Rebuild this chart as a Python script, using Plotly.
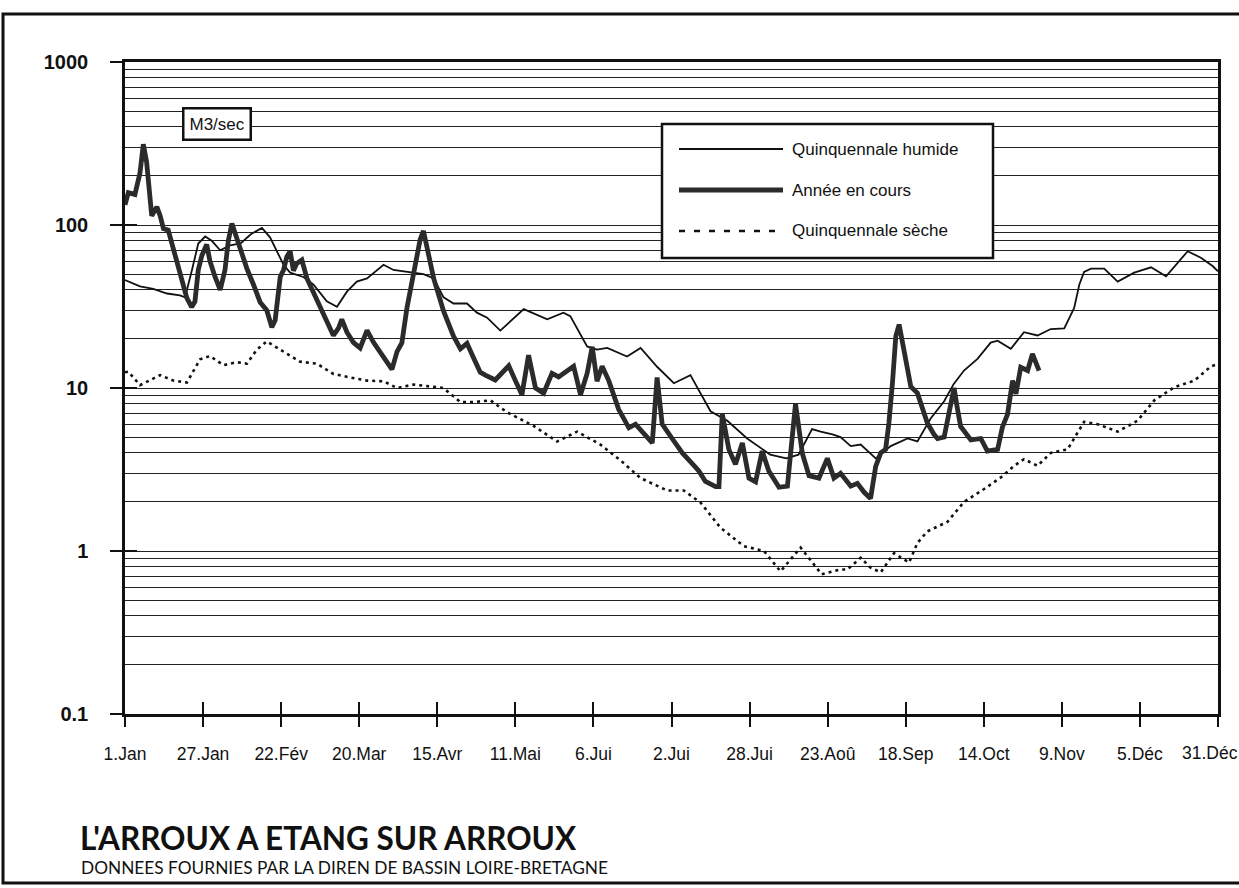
import plotly.graph_objects as go

# ---- Débits journaliers (m3/s), abscisse = jour de l'année ----
humide_day = [1, 6, 10.4, 15, 19.3, 21, 23.2, 25.4, 27.7, 29.9, 32.7, 36, 39.5, 43, 46.6,
              49.3, 53.8, 56, 60.4, 63.8, 68.2, 71.6, 74.9, 78.2, 81.6, 87.1, 90.4, 96,
              100.4, 103.8, 107.1, 110.4, 114.9, 118.2, 121.6, 126, 133.8, 141.6, 147,
              149.3, 154.9, 158.2, 161.6, 168.2, 172.7, 178.2, 183.8, 189.3, 196, 201.6,
              208.2, 215.9, 221.2, 225.3, 229.8, 232.7, 236.6, 239.3, 242.7, 246, 251,
              256, 261.6, 264.9, 269.3, 273.8, 277, 280.4, 284.9, 289.3, 291.6, 296,
              300.4, 304.9, 309.3, 313.8, 317.1, 318.8, 320.4, 322.7, 327.1, 331.6,
              337.1, 342.7, 347.7, 354.9, 359.3, 363.2, 365]
humide_q = [46, 42, 40.5, 38, 37, 36, 52, 77, 85, 80, 70, 75, 77, 88, 96,
            84, 57, 51, 48, 43, 34, 31.5, 39, 45, 47, 57, 53, 51,
            50, 47, 36, 33, 33, 29, 27, 22.5, 30.5, 26.4, 29,
            27.6, 18, 17.2, 17.6, 15.6, 17.6, 13.5, 10.7, 12, 7.2, 6.3,
            4.9, 3.9, 3.7, 3.9, 5.6, 5.4, 5.2, 5.0, 4.4, 4.5, 3.7,
            4.4, 4.9, 4.7, 6.5, 8.3, 10.6, 12.8, 15.1, 19, 19.5, 17.4,
            22, 21, 23, 23.2, 31, 43, 51.5, 54, 54, 45,
            51, 55, 48.5, 69, 63, 56, 52]

annee_day = [1, 2.1, 4.3, 6, 7.1, 8.2, 9.9, 11.6, 12.7, 13.8, 15.4, 17.7, 19.9, 21.6,
             23.2, 24.3, 25.4, 26.6, 28.2, 29.3, 31, 32.7, 34.3, 35.4, 36.6, 37.7,
             39.9, 41.6, 43.8, 46, 48.2, 49.9, 51, 52.7, 53.8, 54.9, 56, 57.1, 58.2,
             59.9, 61.6, 63.8, 66, 68.2, 70.4, 72.1, 73.2, 74.9, 77.1, 79.3, 81.6,
             83.8, 87.1, 89.9, 91.6, 93.2, 94.9, 97.1, 99.3, 100.4, 102.1, 103.8,
             107.1, 110.4, 112.7, 114.9, 117.1, 119.3, 121, 124.3, 126.6, 128.8, 131,
             133.2, 135.4, 137.7, 140.4, 143.2, 145.4, 148.8, 150.4, 152.7, 154.9,
             156.6, 158.2, 159.9, 162.1, 165.4, 168.8, 171, 173.2, 176.6, 178.2,
             179.9, 183.2, 186.6, 189.9, 192.1, 194.3, 197.7, 198.8, 199.9, 202.1,
             204.3, 206.6, 208.8, 211, 213.2, 215.4, 218.8, 221.6, 224.3, 226.6,
             228.8, 232.1, 234.9, 237.1, 239.3, 242.7, 244.9, 247.1, 249.3, 251,
             252.7, 254.3, 255.4, 256.6, 257.7, 258.8, 260.4, 262.7, 264.9, 266.6,
             268.2, 270.4, 271.6, 273.8, 276, 277.1, 278.2, 279.3, 282.7, 286, 288.2,
             291.6, 293.2, 294.9, 296.6, 297.7, 299.3, 301.6, 303.2, 305.4]
annee_q = [133, 158, 154, 209, 313, 243, 114, 129, 114, 95, 93, 65, 46, 35.6,
           31.4, 34, 53, 65, 76, 60, 48, 40, 53, 80, 102, 88,
           65, 54, 43, 33.6, 30, 23.6, 26, 48, 53, 64, 69, 52.5, 58,
           61, 47, 38.7, 31.6, 25.8, 21, 23.3, 26.4, 22, 19, 17.6, 22.6,
           19, 15.5, 13, 16.7, 18.9, 31, 52, 81.5, 92, 63, 47,
           29.6, 20.8, 17.4, 18.8, 15.3, 12.5, 12, 11.2, 12.4, 13.7, 11.1,
           9.1, 15.9, 10, 9.3, 12.3, 11.7, 12.9, 13.6, 9.1, 12.3,
           17.9, 11, 13.6, 11.1, 7.4, 5.7, 6.0, 5.4, 4.6, 11.6,
           6.0, 4.9, 4.0, 3.44, 3.1, 2.67, 2.48, 2.48, 6.95, 4.2,
           3.4, 4.6, 2.8, 2.66, 4.1, 3.1, 2.46, 2.5, 8.0, 3.95,
           2.9, 2.8, 3.7, 2.8, 3.0, 2.5, 2.6, 2.3, 2.1, 3.3,
           4.0, 4.2, 6.1, 10.8, 20.8, 24.5, 17.2, 10.2, 9.3, 7.6,
           6.1, 5.2, 4.9, 5.0, 8.0, 10, 7.5, 5.8, 4.8, 4.9, 4.1,
           4.2, 5.75, 6.9, 11.1, 9.2, 13.4, 12.8, 16.2, 12.8]

seche_day = [1, 2.1, 6, 12.7, 17.1, 21.6, 26, 29.3, 33.8, 38.2, 41.6, 44.9, 48.2,
             53.8, 59.3, 64.9, 70.4, 76, 81.6, 87.1, 91.6, 97.1, 107, 112.7, 117.1,
             122.7, 128.2, 137.1, 144.9, 151.6, 159.3, 166, 172.7, 181.6, 187.1,
             192.7, 199.3, 207.1, 213.8, 219.3, 223.8, 226, 233, 239.3, 241.6, 246,
             249.3, 252.7, 257.1, 262.1, 264.9, 268.2, 274.9, 280.4, 287.1, 292.7,
             297.1, 300.4, 304.9, 309.3, 314.9, 320.4, 324.9, 331.6, 338.2, 343.8,
             350.4, 357.1, 362.7, 365]
seche_q = [12.5, 12.6, 10.4, 12, 11.1, 10.8, 15, 15.7, 13.8, 14.4, 14.1, 17.2, 19.3,
           16.7, 14.5, 14.1, 12.2, 11.6, 11.1, 11, 10, 10.5, 10, 8.2, 8.2,
           8.4, 7.1, 5.85, 4.7, 5.4, 4.5, 3.6, 2.8, 2.35, 2.35,
           1.98, 1.39, 1.07, 1.0, 0.75, 0.94, 1.05, 0.72, 0.77, 0.77, 0.91,
           0.79, 0.74, 0.97, 0.85, 1.12, 1.32, 1.51, 2.0, 2.4, 2.83,
           3.33, 3.66, 3.33, 4.0, 4.2, 6.2, 6.0, 5.4, 6.3, 8.4,
           10.1, 11.1, 13.6, 14]

tick_days = [1, 27, 53, 79, 105, 131, 157, 183, 209, 235, 261, 287, 313, 339, 365]
tick_labels = ["1.Jan", "27.Jan", "22.Fév", "20.Mar", "15.Avr", "11.Mai", "6.Jui",
               "2.Jui", "28.Jui", "23.Aoû", "18.Sep", "14.Oct", "9.Nov", "5.Déc", "31.Déc"]
decades = [0.1, 1, 10, 100, 1000]
decade_labels = ["0.1", "1", "10", "100", "1000"]
minor_values = [m * d for d in [0.1, 1, 10, 100] for m in range(2, 10)]

legend_names = ["Quinquennale humide", "Année en cours", "Quinquennale sèche"]

# ---- page geometry ----
W, H = 1239, 888
L, R, T, B = 125, 21, 62, 174
PW, PH = W - L - R, H - T - B


def px(x):
    return (x - L) / PW


def py(y):
    return (H - B - y) / PH


INK = "#111111"
TXT = "Liberation Sans, Arial, sans-serif"
TICK_FONT = dict(family=TXT, size=17.5, color=INK)

fig = go.Figure()
fig.add_trace(go.Scatter(x=humide_day, y=humide_q, mode="lines", name=legend_names[0],
                         line=dict(color=INK, width=1.8), showlegend=False))
fig.add_trace(go.Scatter(x=seche_day, y=seche_q, mode="lines", name=legend_names[2],
                         line=dict(color=INK, width=2.6, dash="3px,4px"), showlegend=False))
fig.add_trace(go.Scatter(x=annee_day, y=annee_q, mode="lines", name=legend_names[1],
                         line=dict(color="#2b2b2b", width=4.8), showlegend=False))
# transparent copy on the overlay axes so their inner tick marks are drawn
fig.add_trace(go.Scatter(x=seche_day, y=seche_q, xaxis="x2", yaxis="y2", mode="lines",
                         line=dict(width=0), opacity=0, hoverinfo="skip",
                         showlegend=False))

# the last date label sits at the page edge: it is written separately,
# nudged left so that it stays whole
axis_text = tick_labels[:-1] + [""]

fig.update_layout(
    width=W, height=H,
    margin=dict(l=L, r=R, t=T, b=B, autoexpand=False),
    paper_bgcolor="white", plot_bgcolor="white",
    xaxis=dict(range=[1, 365], tickvals=tick_days, ticktext=axis_text,
               ticks="outside", ticklen=10, tickwidth=2, tickcolor=INK,
               showline=True, linewidth=2.5, linecolor=INK, mirror=True,
               showgrid=False, zeroline=False, ticklabelstandoff=12,
               automargin=False, tickfont=TICK_FONT),
    xaxis2=dict(range=[1, 365], overlaying="x", anchor="y", side="bottom",
                tickvals=tick_days, ticks="inside", ticklen=12, tickwidth=2,
                tickcolor=INK, showticklabels=False, showgrid=False,
                showline=False, zeroline=False, automargin=False),
    yaxis=dict(type="log", range=[-1, 3], tickvals=decades, ticktext=decade_labels,
               ticks="outside", ticklen=12, tickwidth=2, tickcolor=INK,
               showline=True, linewidth=2.5, linecolor=INK, mirror=True,
               showgrid=True, gridcolor="#222222", gridwidth=1.2, zeroline=False,
               ticklabelstandoff=18, automargin=False,
               tickfont=dict(family=TXT, size=20, color=INK, weight="bold"),
               minor=dict(tickvals=minor_values, showgrid=True,
                          gridcolor="#222222", gridwidth=1.2, ticks="")),
    yaxis2=dict(type="log", range=[-1, 3], overlaying="y", anchor="x", side="left",
                tickvals=decades, ticks="inside", ticklen=12, tickwidth=2,
                tickcolor=INK, showticklabels=False, showgrid=False,
                showline=False, zeroline=False, automargin=False),
)

shapes = [
    # outer frame of the sheet
    dict(type="rect", xref="paper", yref="paper", x0=px(3), x1=px(1252),
         y0=py(883), y1=py(14), line=dict(color=INK, width=3), layer="above"),
    # legend box
    dict(type="rect", xref="paper", yref="paper", x0=px(662), x1=px(993),
         y0=py(258), y1=py(124), fillcolor="white",
         line=dict(color=INK, width=2.5), layer="above"),
    dict(type="line", xref="paper", yref="paper", x0=px(679), x1=px(783),
         y0=py(149), y1=py(149), line=dict(color=INK, width=2), layer="above"),
    dict(type="line", xref="paper", yref="paper", x0=px(679), x1=px(783),
         y0=py(190), y1=py(190), line=dict(color="#2b2b2b", width=5), layer="above"),
    dict(type="line", xref="paper", yref="paper", x0=px(679), x1=px(783),
         y0=py(231), y1=py(231), line=dict(color=INK, width=2.6, dash="6px,9px"),
         layer="above"),
]

annotations = [
    dict(text=legend_names[i], xref="paper", yref="paper", x=px(790), y=py(yy),
         xanchor="left", yanchor="middle", showarrow=False,
         font=dict(family=TXT, size=17, color=INK))
    for i, yy in enumerate([149, 190, 231])
]
annotations += [
    dict(text=tick_labels[-1], xref="x", yref="paper", x=tick_days[-1], y=py(753),
         xanchor="center", yanchor="middle", xshift=-8, showarrow=False,
         font=TICK_FONT),
    dict(text="M3/sec", xref="paper", yref="paper", x=px(217), y=py(124),
         xanchor="center", yanchor="middle", showarrow=False,
         bgcolor="white", bordercolor=INK, borderwidth=2.5, borderpad=5,
         font=dict(family=TXT, size=17, color=INK)),
    dict(text="L'ARROUX A ETANG SUR ARROUX", xref="paper", yref="paper",
         x=px(78), y=py(838), xanchor="left", yanchor="middle", showarrow=False,
         font=dict(family="Lato, sans-serif", size=31.5, color=INK, weight="bold")),
    dict(text="DONNEES FOURNIES PAR LA DIREN DE BASSIN LOIRE-BRETAGNE",
         xref="paper", yref="paper", x=px(79), y=py(867), xanchor="left",
         yanchor="middle", showarrow=False,
         font=dict(family="Lato, sans-serif", size=17.3, color=INK)),
]

fig.update_layout(shapes=shapes, annotations=annotations)
fig.write_html("out.html")
